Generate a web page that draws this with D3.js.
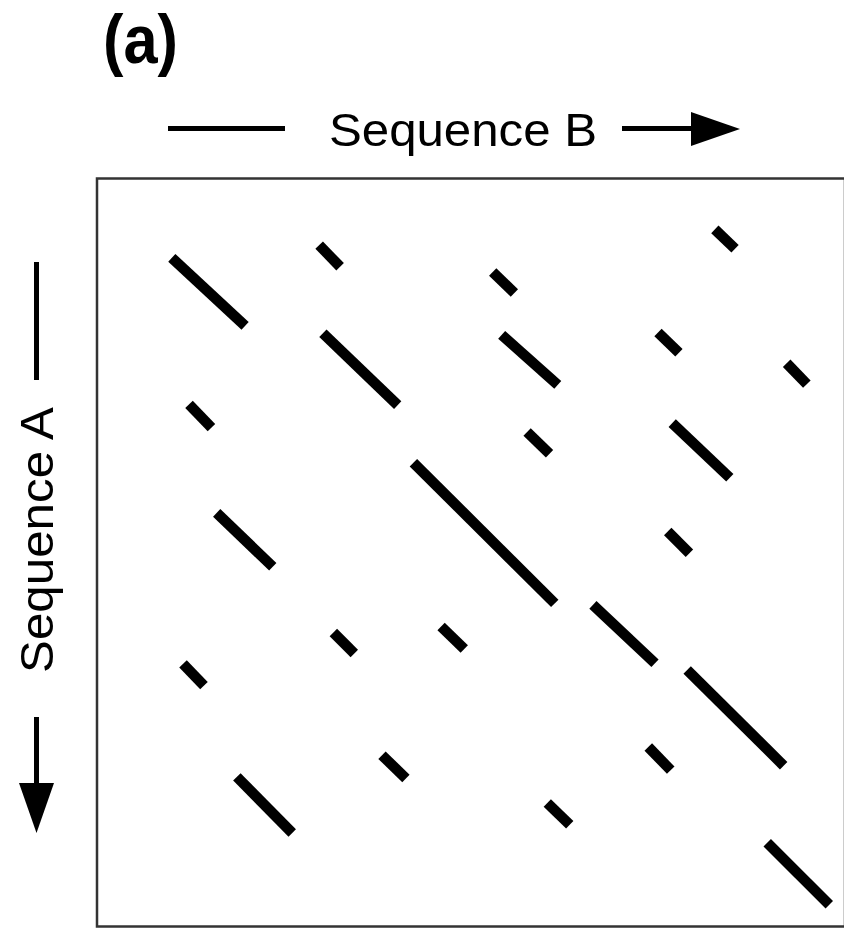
<!DOCTYPE html>
<html>
<head>
<meta charset="utf-8">
<script src="https://cdn.jsdelivr.net/npm/d3@7/dist/d3.min.js"></script>
<style>
  html, body { margin: 0; padding: 0; background: #fff; overflow: hidden; }
  svg { display: block; }
</style>
</head>
<body>
<svg id="chart" width="844" height="928"></svg>
<script>
// dot-plot matches, positions in residues (0..100) along each sequence
const bStart = [10.0, 29.7, 52.9, 82.6, 30.2, 54.1, 75.0, 92.2, 12.3, 57.5, 76.9, 42.3, 16.0, 76.3, 31.6, 46.0, 66.3, 11.5, 78.9, 38.1, 73.7, 18.7, 60.2, 89.6];
const aStart = [10.6,  8.9, 12.5,  6.8, 20.7, 20.9, 20.6, 24.7, 30.2, 33.9, 32.7, 38.0, 44.7, 47.2, 60.7, 59.9, 57.0, 64.9, 65.7, 77.1, 76.0, 80.0, 83.5, 88.8];
const bEnd   = [19.8, 32.5, 55.8, 85.3, 40.2, 61.6, 77.8, 94.9, 15.3, 60.5, 84.6, 61.2, 23.5, 79.2, 34.4, 49.1, 74.6, 14.3, 91.8, 41.3, 76.7, 26.1, 63.2, 97.9];
const aEnd   = [19.7, 11.8, 15.3,  9.4, 30.3, 27.6, 23.3, 27.5, 33.3, 36.8, 40.0, 56.8, 51.9, 50.1, 63.5, 62.9, 64.8, 67.8, 78.5, 80.2, 79.1, 87.5, 86.4, 97.1];

const seqLength = 100;
const panelLabel = '(a)';
const labelB = 'Sequence B';
const labelA = 'Sequence A';

const svg = d3.select('#chart');
const box = { left: 97, top: 178.5, size: 748 };

const x = d3.scaleLinear().domain([0, seqLength]).range([box.left, box.left + box.size]);
const y = d3.scaleLinear().domain([0, seqLength]).range([box.top, box.top + box.size]);

// frame
svg.append('rect')
  .attr('x', x(0)).attr('y', y(0))
  .attr('width', x(seqLength) - x(0)).attr('height', y(seqLength) - y(0))
  .attr('fill', 'none').attr('stroke', '#333').attr('stroke-width', 2.5);

// matching diagonals
const segs = bStart.map((b, i) => ({ b0: b, a0: aStart[i], b1: bEnd[i], a1: aEnd[i] }));
svg.append('g').selectAll('line').data(segs).join('line')
  .attr('x1', d => x(d.b0)).attr('y1', d => y(d.a0))
  .attr('x2', d => x(d.b1)).attr('y2', d => y(d.a1))
  .attr('stroke', '#000').attr('stroke-width', 10.5).attr('stroke-linecap', 'butt');

// panel label
svg.append('text')
  .attr('x', 103).attr('y', 63)
  .attr('font-family', '"Liberation Sans", Arial, sans-serif')
  .attr('font-weight', 'bold').attr('font-size', 68)
  .attr('textLength', 75).attr('lengthAdjust', 'spacingAndGlyphs')
  .text(panelLabel);

// top axis title with arrow
const gB = svg.append('g');
gB.append('line').attr('x1', 168).attr('x2', 285).attr('y1', 128.5).attr('y2', 128.5)
  .attr('stroke', '#000').attr('stroke-width', 5);
gB.append('text')
  .attr('x', 329).attr('y', 146)
  .attr('font-family', '"Liberation Sans", Arial, sans-serif').attr('font-size', 47)
  .attr('textLength', 268).attr('lengthAdjust', 'spacingAndGlyphs')
  .text(labelB);
gB.append('line').attr('x1', 622).attr('x2', 700).attr('y1', 128.5).attr('y2', 128.5)
  .attr('stroke', '#000').attr('stroke-width', 5);
gB.append('path').attr('d', 'M691,112 L740,129 L691,146 Z').attr('fill', '#000');

// left axis title with arrow
const gA = svg.append('g');
gA.append('line').attr('x1', 36.5).attr('x2', 36.5).attr('y1', 262).attr('y2', 380)
  .attr('stroke', '#000').attr('stroke-width', 5);
gA.append('text')
  .attr('transform', 'translate(53,673) rotate(-90)')
  .attr('font-family', '"Liberation Sans", Arial, sans-serif').attr('font-size', 47)
  .attr('textLength', 266).attr('lengthAdjust', 'spacingAndGlyphs')
  .text(labelA);
gA.append('line').attr('x1', 36.5).attr('x2', 36.5).attr('y1', 717).attr('y2', 790)
  .attr('stroke', '#000').attr('stroke-width', 5);
gA.append('path').attr('d', 'M19,783 L36.5,833 L54,783 Z').attr('fill', '#000');
</script>
</body>
</html>
